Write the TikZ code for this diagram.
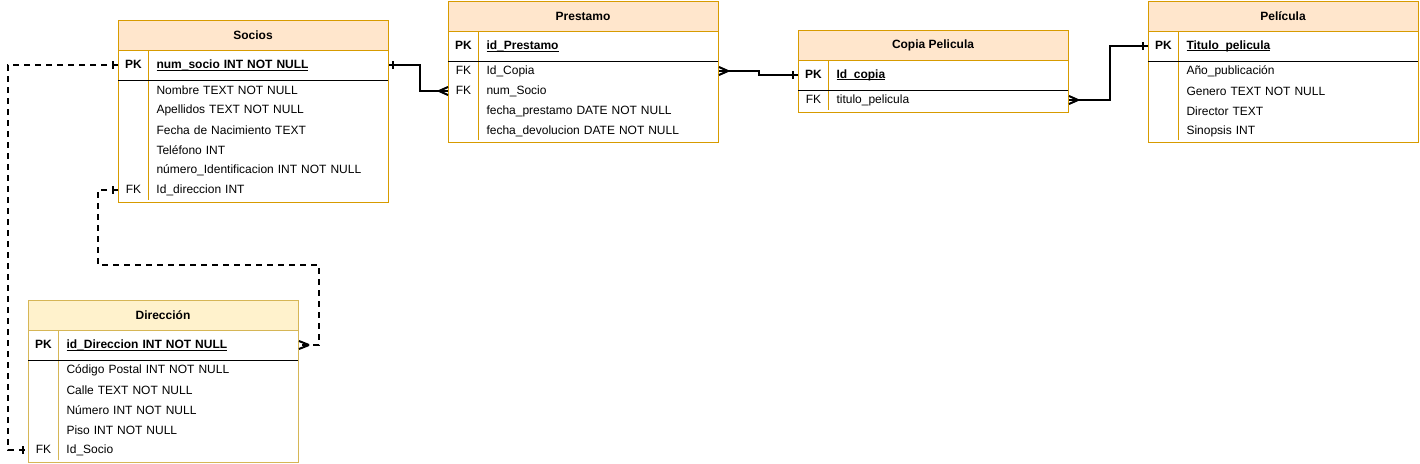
\documentclass[tikz,border=0pt]{standalone}
\usepackage{fontspec}
\setmainfont{Liberation Sans}
\definecolor{orfill}{HTML}{FFE6CC}
\definecolor{ordraw}{HTML}{D79B00}
\definecolor{yefill}{HTML}{FFF2CC}
\definecolor{yedraw}{HTML}{D6B656}
\newcommand{\pkul}[1]{\setbox0\hbox{#1}\rlap{\rule[-2pt]{\wd0}{0.8pt}}\box0}
\newcommand{\erow}[2]{\makebox[30pt]{#1}\hspace{8pt}#2}
\tikzset{
  title/.style={font=\fontsize{12}{14}\selectfont\bfseries},
  row/.style={anchor=west,text width=270pt,inner sep=0pt,minimum height=20pt,align=left},
  rel/.style={line width=2pt},
  opt/.style={line width=2pt,dash pattern=on 6pt off 5pt},
}
\begin{document}
\begin{tikzpicture}[x=1pt,y=-1pt,line width=1pt,every node/.style={font=\fontsize{12}{14}\selectfont}]
\useasboundingbox (0,0) rectangle (1420,463);
%Socios
\draw[ordraw,fill=orfill] (118,20) rectangle (388,50);
\node[title] (soc) at (253,35) {Socios};
\draw[ordraw] (118,50) rectangle (388,202);
\draw[ordraw] (148,50) -- (148,200);
\draw (118,80) -- (388,80);
\node[row,minimum height=30pt] (socpk) at (118,65) {\erow{\textbf{PK}}{\textbf{\pkul{num\_socio INT NOT NULL}}}};
\foreach \k/\t [count=\i] in {/Nombre TEXT NOT NULL,/Apellidos TEXT NOT NULL,/Fecha de Nacimiento TEXT,/Teléfono INT,/número\_Identificacion INT NOT NULL,FK/Id\_direccion INT}
  \node[row] (soc\i) at (118,70+20*\i) {\erow{\k}{\t}};
%Prestamo
\draw[ordraw,fill=orfill] (448,1) rectangle (718,31);
\node[title] (pre) at (583,16) {Prestamo};
\draw[ordraw] (448,31) rectangle (718,142);
\draw[ordraw] (478,31) -- (478,140);
\draw (448,61) -- (718,61);
\node[row,minimum height=30pt] (prepk) at (448,46) {\erow{\textbf{PK}}{\textbf{\pkul{id\_Prestamo}}}};
\foreach \k/\t [count=\i] in {FK/Id\_Copia,FK/num\_Socio,/fecha\_prestamo DATE NOT NULL,/fecha\_devolucion DATE NOT NULL}
  \node[row] (pre\i) at (448,51+20*\i) {\erow{\k}{\t}};
%Copia Pelicula
\draw[ordraw,fill=orfill] (798,30) rectangle (1068,60);
\node[title] (cop) at (933,45) {Copia Pelicula};
\draw[ordraw] (798,60) rectangle (1068,112);
\draw[ordraw] (828,60) -- (828,110);
\draw (798,90) -- (1068,90);
\node[row,minimum height=30pt] (coppk) at (798,75) {\erow{\textbf{PK}}{\textbf{\pkul{Id\_copia}}}};
\node[row] (cop1) at (798,100) {\erow{FK}{titulo\_pelicula}};
%Pelicula
\draw[ordraw,fill=orfill] (1148,1) rectangle (1418,31);
\node[title] (pel) at (1283,16) {Película};
\draw[ordraw] (1148,31) rectangle (1418,142);
\draw[ordraw] (1178,31) -- (1178,140);
\draw (1148,61) -- (1418,61);
\node[row,minimum height=30pt] (pelpk) at (1148,46) {\erow{\textbf{PK}}{\textbf{\pkul{Titulo\_pelicula}}}};
\foreach \k/\t [count=\i] in {/Año\_publicación,/Genero TEXT NOT NULL,/Director TEXT,/Sinopsis INT}
  \node[row] (pel\i) at (1148,51+20*\i) {\erow{\k}{\t}};
%Direccion
\draw[yedraw,fill=yefill] (28,300) rectangle (298,330);
\node[title] (dir) at (163,315) {Dirección};
\draw[yedraw] (28,330) rectangle (298,462);
\draw[yedraw] (58,330) -- (58,460);
\draw (28,360) -- (298,360);
\node[row,minimum height=30pt] (dirpk) at (28,345) {\erow{\textbf{PK}}{\textbf{\pkul{id\_Direccion INT NOT NULL}}}};
\foreach \k/\t [count=\i] in {/Código Postal INT NOT NULL,/Calle TEXT NOT NULL,/Número INT NOT NULL,/Piso INT NOT NULL,FK/Id\_Socio}
  \node[row] (dir\i) at (28,350+20*\i) {\erow{\k}{\t}};
%relations
\draw[rel] (socpk.east) -- ++(31,0) |- (pre2.west);
\draw[rel] ([xshift=4pt]socpk.east) ++(0,-4) -- ++(0,8);
\draw[rel] ([xshift=-9pt]pre2.west) -- ([yshift=4pt]pre2.west) ([xshift=-9pt]pre2.west) -- ([yshift=-4pt]pre2.west);
\draw[rel] (pre1.east) -- ++(40,0) |- (coppk.west);
\draw[rel] ([xshift=9pt]pre1.east) -- ([yshift=4pt]pre1.east) ([xshift=9pt]pre1.east) -- ([yshift=-4pt]pre1.east);
\draw[rel] ([xshift=-5pt]coppk.west) ++(0,-4) -- ++(0,8);
\draw[rel] (cop1.east) -- ++(41,0) |- (pelpk.west);
\draw[rel] ([xshift=9pt]cop1.east) -- ([yshift=4pt]cop1.east) ([xshift=9pt]cop1.east) -- ([yshift=-4pt]cop1.east);
\draw[rel] ([xshift=-5pt]pelpk.west) ++(0,-4) -- ++(0,8);
%dashed
\draw[opt] (socpk.west) -- ++(-110,0) |- (dir5.west);
\draw[rel] ([xshift=-5pt]socpk.west) ++(0,-4) -- ++(0,8);
\draw[rel] ([xshift=-5pt]dir5.west) ++(0,-4) -- ++(0,8);
\draw[opt] (soc6.west) -- ++(-20,0) -- ++(0,75) -| ([xshift=20pt]dirpk.east) -- (dirpk.east);
\draw[rel] ([xshift=-5pt]soc6.west) ++(0,-4) -- ++(0,8);
\draw[rel] ([xshift=10pt]dirpk.east) -- ([yshift=4pt]dirpk.east) ([xshift=10pt]dirpk.east) -- ([yshift=-4pt]dirpk.east);
\end{tikzpicture}
\end{document}
